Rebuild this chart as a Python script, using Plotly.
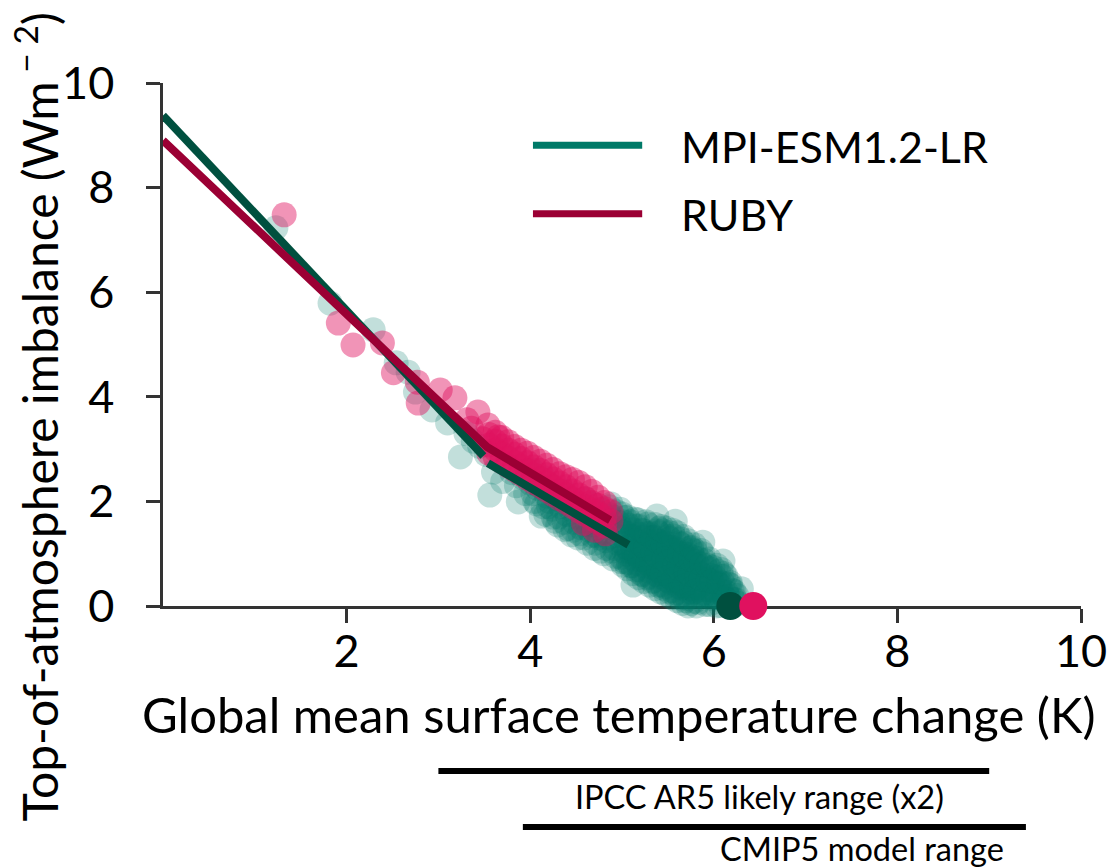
import plotly.graph_objects as go

# ---------------- data ----------------
# MPI-ESM1.2-LR annual means: temperature change (K) and TOA imbalance (W m-2)
mpi_dt = [
    1.23, 1.82, 2.29, 2.54, 2.67, 2.75, 2.93, 3.10, 3.24, 3.30, 3.45, 3.56, 3.60, 3.70, 3.87, 3.75, 3.52, 3.38,
    3.80, 3.85, 3.92, 3.95, 4.00, 4.02, 4.05, 4.08, 4.12, 4.15, 4.18, 4.20,
    4.22, 4.25, 4.28, 4.30, 4.33, 4.36, 4.38, 4.40, 4.43, 4.45, 4.48, 4.50, 4.52, 4.55, 4.58, 4.60,
    4.62, 4.64, 4.66, 4.70, 4.72, 4.74, 4.76, 4.80, 4.82, 4.84, 4.86, 4.88, 4.90, 4.92, 4.94, 4.96, 4.98,
    4.03, 4.07, 4.10, 4.14, 4.17, 4.21, 4.24, 4.27, 4.31, 4.34, 4.37, 4.41, 4.44, 4.47, 4.51, 4.54, 4.57, 4.59, 4.63, 4.67,
    4.69, 4.71, 4.73, 4.77, 4.79, 4.81, 4.83, 4.85, 4.87, 4.89, 4.91, 4.93, 4.95, 4.97, 4.99, 4.75, 4.78, 4.86, 4.94, 4.68,
    5.01, 4.99, 5.02, 5.00, 5.01, 4.99, 5.02, 5.00,
    5.06, 5.07, 5.05, 5.06, 5.08, 5.05, 5.07, 5.06,
    5.12, 5.11, 5.13, 5.12, 5.11, 5.13, 5.12, 5.14,
    5.18, 5.19, 5.17, 5.18, 5.20, 5.17, 5.19, 5.18, 5.17,
    5.24, 5.23, 5.25, 5.24, 5.22, 5.25, 5.24, 5.23, 5.26,
    5.30, 5.31, 5.29, 5.30, 5.32, 5.29, 5.31, 5.30, 5.28,
    5.36, 5.35, 5.37, 5.36, 5.34, 5.37, 5.36, 5.35, 5.38, 5.36,
    5.42, 5.43, 5.41, 5.42, 5.44, 5.41, 5.43, 5.42, 5.40, 5.43,
    5.48, 5.47, 5.49, 5.48, 5.46, 5.49, 5.48, 5.47, 5.50, 5.48,
    5.54, 5.55, 5.53, 5.54, 5.56, 5.53, 5.55, 5.54, 5.52, 5.55,
    5.60, 5.59, 5.61, 5.60, 5.58, 5.61, 5.60, 5.59, 5.62, 5.60,
    5.66, 5.67, 5.65, 5.66, 5.68, 5.65, 5.67, 5.66, 5.64, 5.67,
    5.72, 5.71, 5.73, 5.72, 5.70, 5.73, 5.72, 5.71, 5.74, 5.72,
    5.78, 5.79, 5.77, 5.78, 5.80, 5.77, 5.79, 5.78, 5.76, 5.79,
    5.84, 5.83, 5.85, 5.84, 5.82, 5.85, 5.84, 5.83, 5.86,
    5.90, 5.91, 5.89, 5.90, 5.92, 5.89, 5.91, 5.90, 5.88,
    5.96, 5.95, 5.97, 5.96, 5.94, 5.97, 5.96, 5.95,
    6.02, 6.03, 6.01, 6.02, 6.04, 6.01, 6.03,
    6.08, 6.07, 6.09, 6.08, 6.06, 6.09, 6.08,
    6.14, 6.15, 6.13, 6.14, 6.16, 6.13,
    6.20, 6.19, 6.21, 6.20, 6.18,
    6.26, 6.27, 6.25,
    5.03, 5.04, 5.02, 5.03,
    5.09, 5.08, 5.10, 5.09,
    5.15, 5.16, 5.14, 5.15,
    5.21, 5.20, 5.22, 5.21,
    5.27, 5.28, 5.26, 5.27,
    5.33, 5.32, 5.34, 5.33,
    5.39, 5.40, 5.38, 5.39, 5.40,
    5.45, 5.44, 5.46, 5.45, 5.44,
    5.51, 5.52, 5.50, 5.51, 5.52,
    5.57, 5.56, 5.58, 5.57, 5.56,
    5.63, 5.64, 5.62, 5.63, 5.64,
    5.69, 5.68, 5.70, 5.69, 5.68,
    5.75, 5.76, 5.74, 5.75, 5.76,
    5.81, 5.80, 5.82, 5.81, 5.80,
    5.87, 5.88, 5.86, 5.87,
    5.93, 5.92, 5.94, 5.93,
    5.99, 6.00, 5.98, 5.99,
    6.05, 6.04, 6.06, 6.05,
    6.11, 6.12, 6.10, 6.11,
    6.17, 6.16, 6.18,
    6.23, 6.24, 6.22,
    5.38, 5.58, 5.88, 6.10, 6.30, 5.12, 5.70, 5.95, 6.15,
]
mpi_n = [
    7.23, 5.79, 5.28, 4.65, 4.47, 4.09, 3.75, 3.50, 2.85, 3.30, 3.05, 2.12, 2.56, 2.38, 1.99, 2.70, 2.90, 3.15,
    2.55, 2.30, 2.45, 2.15, 2.35, 2.60, 2.00, 2.25, 1.72, 2.45, 2.10, 1.90,
    2.30, 1.70, 2.05, 1.55, 1.90, 2.20, 1.46, 1.75, 2.05, 1.36, 1.60, 1.95, 1.30, 1.50, 1.80, 2.05,
    1.20, 1.45, 1.70, 1.10, 1.35, 1.60, 1.85, 1.00, 1.25, 1.50, 1.75, 1.95, 0.90, 1.10, 1.35, 1.60, 1.85,
    2.15, 1.95, 2.30, 1.90, 1.75, 2.00, 1.85, 1.62, 1.70, 2.05, 1.60, 1.48, 1.85, 1.45, 1.70, 1.38, 1.62, 1.30, 1.55, 1.35,
    1.55, 1.20, 1.80, 1.05, 1.40, 1.65, 1.10, 1.30, 1.55, 1.05, 1.70, 0.95, 1.20, 1.45, 0.85, 1.30, 1.70, 1.90, 1.80, 1.95,
    0.78, 0.93, 1.05, 1.21, 1.33, 1.49, 1.61, 1.76,
    0.71, 0.83, 0.99, 1.12, 1.27, 1.39, 1.55, 1.70,
    0.62, 0.77, 0.89, 1.05, 1.17, 1.33, 1.46, 1.66,
    0.54, 0.69, 0.81, 0.97, 1.09, 1.25, 1.37, 1.53, 1.65,
    0.47, 0.60, 0.76, 0.88, 1.04, 1.16, 1.32, 1.44, 1.61,
    0.40, 0.55, 0.67, 0.83, 0.95, 1.11, 1.23, 1.39, 1.57,
    0.33, 0.48, 0.60, 0.76, 0.88, 1.04, 1.16, 1.32, 1.44, 1.56,
    0.27, 0.40, 0.56, 0.68, 0.84, 0.96, 1.12, 1.24, 1.40, 1.52,
    0.22, 0.37, 0.49, 0.65, 0.77, 0.93, 1.05, 1.21, 1.33, 1.49,
    0.16, 0.29, 0.45, 0.57, 0.73, 0.85, 1.01, 1.13, 1.29, 1.45,
    0.10, 0.25, 0.37, 0.53, 0.65, 0.81, 0.93, 1.09, 1.21, 1.40,
    0.05, 0.18, 0.34, 0.46, 0.62, 0.74, 0.90, 1.02, 1.18, 1.33,
    0.00, 0.15, 0.27, 0.43, 0.55, 0.71, 0.83, 0.99, 1.11, 1.25,
    -0.04, 0.09, 0.25, 0.37, 0.53, 0.65, 0.81, 0.93, 1.07, 1.17,
    -0.08, 0.07, 0.19, 0.35, 0.47, 0.63, 0.75, 0.91, 1.06,
    -0.10, 0.03, 0.19, 0.31, 0.47, 0.59, 0.75, 0.87, 1.00,
    -0.12, 0.03, 0.15, 0.31, 0.43, 0.59, 0.71, 0.90,
    -0.13, 0.00, 0.16, 0.28, 0.44, 0.56, 0.78,
    -0.14, 0.01, 0.13, 0.29, 0.41, 0.57, 0.70,
    -0.15, -0.02, 0.14, 0.26, 0.42, 0.58,
    -0.15, 0.01, 0.13, 0.30, 0.45,
    -0.10, 0.05, 0.20,
    0.85, 1.13, 1.41, 1.69,
    0.77, 1.05, 1.33, 1.61,
    0.69, 0.97, 1.25, 1.53,
    0.61, 0.89, 1.17, 1.45,
    0.54, 0.82, 1.10, 1.38,
    0.47, 0.75, 1.03, 1.31,
    0.40, 0.68, 0.96, 1.24, 1.48,
    0.34, 0.62, 0.90, 1.18, 1.44,
    0.28, 0.56, 0.84, 1.12, 1.40,
    0.22, 0.50, 0.78, 1.06, 1.34,
    0.16, 0.44, 0.72, 1.00, 1.28,
    0.10, 0.38, 0.66, 0.94, 1.20,
    0.05, 0.33, 0.61, 0.89, 1.12,
    0.00, 0.28, 0.56, 0.84, 1.05,
    -0.04, 0.24, 0.52, 0.80,
    -0.06, 0.22, 0.50, 0.78,
    -0.08, 0.20, 0.48, 0.74,
    -0.09, 0.18, 0.46, 0.66,
    -0.10, 0.16, 0.44, 0.62,
    -0.08, 0.18, 0.40,
    -0.05, 0.12, 0.28,
    1.72, 1.62, 1.22, 0.86, 0.33, 0.40, -0.12, -0.20, -0.22,
]

# RUBY annual means
ruby_dt = [
    1.32, 1.91, 2.07, 2.39, 2.51, 2.77, 2.78, 3.02, 3.18, 3.31, 3.43, 3.54, 3.65, 3.36, 3.48,
    3.55, 3.55, 3.55,
    3.62, 3.62, 3.62, 3.62,
    3.69, 3.69, 3.69, 3.69,
    3.76, 3.76, 3.76, 3.76,
    3.83, 3.83, 3.83, 3.83,
    3.90, 3.90, 3.90, 3.90,
    3.97, 3.97, 3.97, 3.97,
    4.04, 4.04, 4.04, 4.04,
    4.11, 4.11, 4.11, 4.11,
    4.18, 4.18, 4.18, 4.18,
    4.25, 4.25, 4.25, 4.25,
    4.32, 4.32, 4.32, 4.32,
    4.39, 4.39, 4.39, 4.39,
    4.46, 4.46, 4.46, 4.46,
    4.53, 4.53, 4.53, 4.53,
    4.60, 4.60, 4.60, 4.60,
    4.67, 4.67, 4.67, 4.67,
    4.74, 4.74, 4.74, 4.74,
    4.81, 4.81, 4.81, 4.81,
    4.88, 4.88,
    4.58, 4.70, 4.82,
]
ruby_n = [
    7.48, 5.41, 4.99, 5.03, 4.46, 4.28, 3.88, 4.13, 3.98, 3.56, 3.71, 3.46, 3.23, 3.40, 3.20,
    2.92, 3.08, 3.28,
    2.84, 2.99, 3.15, 3.32,
    2.76, 2.91, 3.06, 3.22,
    2.68, 2.83, 2.98, 3.14,
    2.60, 2.75, 2.90, 3.05,
    2.52, 2.67, 2.82, 2.98,
    2.44, 2.59, 2.74, 2.92,
    2.36, 2.51, 2.66, 2.84,
    2.29, 2.44, 2.59, 2.77,
    2.21, 2.36, 2.51, 2.69,
    2.13, 2.28, 2.43, 2.61,
    2.05, 2.20, 2.35, 2.53,
    1.98, 2.13, 2.28, 2.47,
    1.90, 2.05, 2.20, 2.42,
    1.82, 1.97, 2.12, 2.36,
    1.75, 1.90, 2.05, 2.28,
    1.68, 1.83, 1.98, 2.19,
    1.60, 1.76, 1.92, 2.08,
    1.53, 1.69, 1.86, 1.98,
    1.62, 1.80,
    1.58, 1.45, 1.38,
]

# regression fits
mpi_fit1_dt = [0.0, 3.49]
mpi_fit1_n = [9.38, 2.87]
mpi_fit2_dt = [3.54, 5.07]
mpi_fit2_n = [2.73, 1.17]
ruby_fit_dt = [0.0, 3.53, 4.87]
ruby_fit_n = [8.90, 3.04, 1.64]

# equilibrium climate sensitivity estimates (N = 0)
eq_dt = [6.18, 6.43]
eq_n = [0.0, 0.0]

# reference ranges (K)
range_labels = ["IPCC AR5 likely range (x2)", "CMIP5 model range"]
range_lo = [3.0, 3.92]
range_hi = [9.0, 9.40]
range_label_x = [6.50, 7.61]

legend_names = ["MPI-ESM1.2-LR", "RUBY"]

x_ticks = [2, 4, 6, 8, 10]
y_ticks = [0, 2, 4, 6, 8, 10]

# ---------------- styling ----------------
FONT = "Lato"
TEAL = "#007A68"
TEAL_A = "rgba(0,122,104,0.24)"
PINK = "#E0115F"
PINK_A = "rgba(224,17,95,0.45)"
DKGREEN = "#00503F"
CRIMSON = "#9B0034"
AXC = "#333333"

fig = go.Figure()

fig.add_trace(go.Scatter(x=mpi_dt, y=mpi_n, mode="markers", cliponaxis=False,
                         marker=dict(size=25, color=TEAL_A, line=dict(width=0)),
                         showlegend=False))
fig.add_trace(go.Scatter(x=ruby_dt, y=ruby_n, mode="markers", cliponaxis=False,
                         marker=dict(size=25, color=PINK_A, line=dict(width=0)),
                         showlegend=False))
fig.add_trace(go.Scatter(x=mpi_fit1_dt, y=mpi_fit1_n, mode="lines",
                         line=dict(color=DKGREEN, width=8), showlegend=False))
fig.add_trace(go.Scatter(x=mpi_fit2_dt, y=mpi_fit2_n, mode="lines",
                         line=dict(color=DKGREEN, width=8), showlegend=False))
fig.add_trace(go.Scatter(x=ruby_fit_dt, y=ruby_fit_n, mode="lines",
                         line=dict(color=CRIMSON, width=8), showlegend=False))
fig.add_trace(go.Scatter(x=eq_dt[:1], y=eq_n[:1], mode="markers", cliponaxis=False,
                         marker=dict(size=28, color=DKGREEN, line=dict(width=0)),
                         showlegend=False))
fig.add_trace(go.Scatter(x=eq_dt[1:], y=eq_n[1:], mode="markers", cliponaxis=False,
                         marker=dict(size=28, color=PINK, line=dict(width=0)),
                         showlegend=False))

shapes = []
annotations = []

# custom legend
leg_y = [0.881, 0.750]
leg_txt_y = [0.879, 0.749]
leg_col = [TEAL, CRIMSON]
for name, ly, ty, c in zip(legend_names, leg_y, leg_txt_y, leg_col):
    shapes.append(dict(type="line", xref="paper", yref="paper", x0=0.403, x1=0.522,
                       y0=ly, y1=ly, line=dict(color=c, width=7)))
    annotations.append(dict(text=name, xref="paper", yref="paper", x=0.562, y=ty,
                            xanchor="left", yanchor="middle", showarrow=False,
                            font=dict(family=FONT, size=43, color="black")))

# reference range bars
bar_y = [-0.3155, -0.4226]
lab_y = [-0.365, -0.463]
for lab, lo, hi, lx, by, ly in zip(range_labels, range_lo, range_hi, range_label_x, bar_y, lab_y):
    shapes.append(dict(type="line", xref="x", yref="paper", x0=lo, x1=hi, y0=by, y1=by,
                       line=dict(color="black", width=6)))
    annotations.append(dict(text=lab, xref="x", yref="paper", x=lx, y=ly,
                            xanchor="center", yanchor="middle", showarrow=False,
                            font=dict(family=FONT, size=32.5, color="black")))

# axis titles
annotations.append(dict(text="Global mean surface temperature change (K)", xref="paper", yref="paper",
                        x=0.497, y=-0.207, xanchor="center", yanchor="middle", showarrow=False,
                        font=dict(family=FONT, size=49, color="black")))
annotations.append(dict(text="Top-of-atmosphere imbalance (Wm<sup> − 2</sup>)", xref="paper", yref="paper",
                        x=-0.138, y=0.361, xanchor="center", yanchor="middle", showarrow=False,
                        textangle=-90, font=dict(family=FONT, size=48, color="black")))

axis_common = dict(showline=True, linecolor=AXC, linewidth=2.5, ticks="outside",
                   ticklen=14, tickwidth=2.5, tickcolor=AXC, showgrid=False, zeroline=False,
                   automargin=False,
                   tickfont=dict(family=FONT, size=45, color="black"), layer="below traces")

fig.update_layout(
    width=1108, height=867, autosize=False,
    margin=dict(l=163, r=27, t=83, b=261, autoexpand=False),
    paper_bgcolor="white", plot_bgcolor="white",
    xaxis=dict(range=[0, 10], tickvals=x_ticks, ticklabelstandoff=-10, **axis_common),
    yaxis=dict(range=[0, 10], tickvals=y_ticks, ticklabelstandoff=23, **axis_common),
    shapes=shapes, annotations=annotations,
    showlegend=False,
)

fig.write_html("out.html", config={"responsive": False, "displayModeBar": False},
               post_script="document.body.style.margin='0';document.body.style.overflow='hidden';")
